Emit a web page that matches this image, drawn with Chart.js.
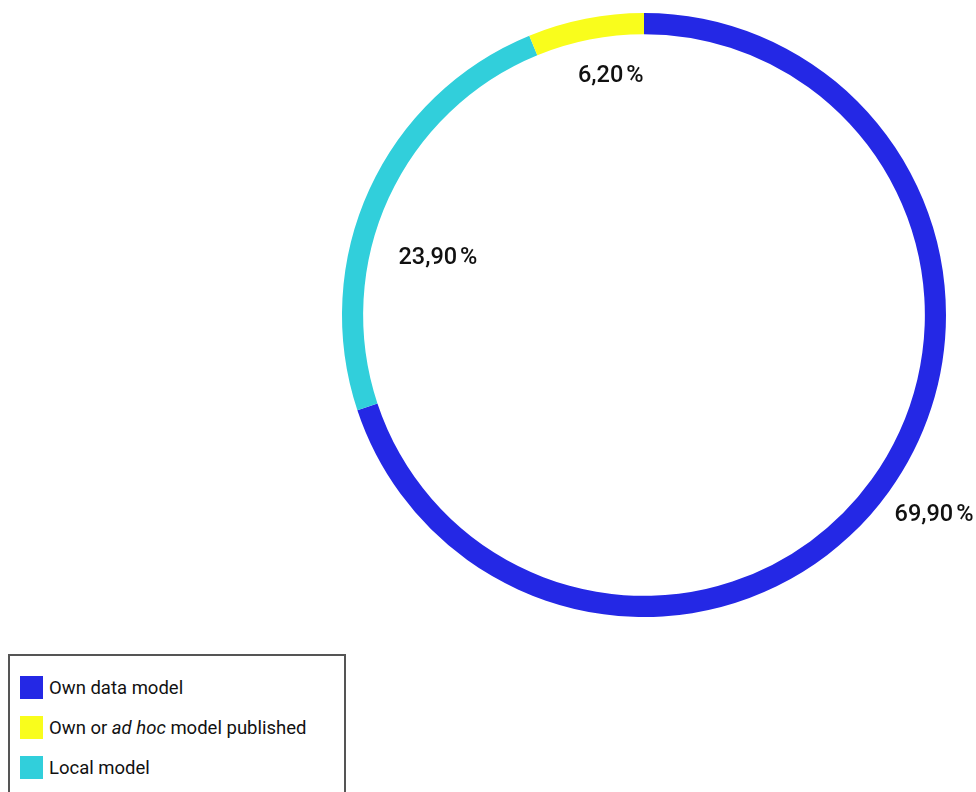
<!DOCTYPE html>
<html>
<head>
<meta charset="utf-8">
<script src="https://cdn.jsdelivr.net/npm/chart.js@4.4.0/dist/chart.umd.min.js"></script>
<style>
    body { margin: 0; background: #fff; font-family: Roboto, sans-serif; }
    #wrap { position: absolute; left: 0; top: 0; width: 976px; height: 640px; }
    #legend {
        position: absolute; left: 8px; top: 654px; width: 338px; height: 160px;
        box-sizing: border-box; border: 2px solid #555; background: #fff;
    }
    .item { position: absolute; left: 10px; height: 23px; display: flex; align-items: center; font-size: 18.5px; color: #111; }
    .sw { width: 23px; height: 23px; margin-right: 6px; }
</style>
</head>
<body>
<div id="wrap"><canvas id="myChart"></canvas></div>
<div id="legend"></div>
<script>
const labels = ['Own data model', 'Local model', 'Own or <i>ad hoc</i> model published']
const values = [69.9, 23.9, 6.2]
const colors = ['#2428E5', '#31CFDB', '#F9FD1C']
const legendOrder = [0, 2, 1]

// where each value label sits: fraction along its arc, distance from centre / outer radius
const labelSpots = [[0.495, 1.166], [0.393, 0.708], [0.644, 0.797]]

const fmt = (v) => v.toFixed(2).replace('.', ',') + '\u202F%'

const arcLabels = {
    id: 'arcLabels',
    afterDatasetsDraw(chart) {
        const ctx = chart.ctx
        const arcs = chart.getDatasetMeta(0).data
        ctx.save()
        ctx.font = '500 23.5px Roboto'
        ctx.fillStyle = '#111'
        ctx.textAlign = 'center'
        ctx.textBaseline = 'middle'
        arcs.forEach((arc, i) => {
            const p = arc.getProps(['x', 'y', 'startAngle', 'endAngle', 'outerRadius'], true)
            const a = p.startAngle + (p.endAngle - p.startAngle) * labelSpots[i][0]
            const r = p.outerRadius * labelSpots[i][1]
            ctx.fillText(fmt(values[i]), p.x + r * Math.cos(a), p.y + r * Math.sin(a))
        })
        ctx.restore()
    }
}

const myChart = new Chart(document.getElementById('myChart'), {
    type: 'doughnut',
    data: {
        labels: labels,
        datasets: [{
            data: values,
            backgroundColor: colors,
            borderWidth: 0,
        }]
    },
    options: {
        responsive: true,
        maintainAspectRatio: false,
        animation: false,
        cutout: '93%',
        layout: { padding: { left: 342, right: 30, top: 13, bottom: 23 } },
        events: [],
        plugins: {
            legend: { display: false },
            tooltip: { enabled: false },
        }
    },
    plugins: [arcLabels]
})

const legend = document.getElementById('legend')
legendOrder.forEach((idx, row) => {
    const item = document.createElement('div')
    item.className = 'item'
    item.style.top = (20 + row * 40) + 'px'
    item.innerHTML = '<span class="sw" style="background:' + colors[idx] + '"></span><span>' + labels[idx] + '</span>'
    legend.appendChild(item)
})
</script>
</body>
</html>
